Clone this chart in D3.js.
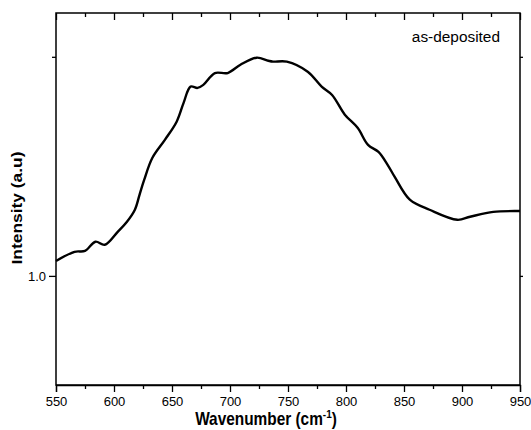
<!DOCTYPE html>
<html>
<head>
<meta charset="utf-8">
<script src="https://cdn.jsdelivr.net/npm/d3@7"></script>
<style>
  body { margin: 0; background: #fff; }
  text { font-family: "Liberation Sans", Arial, sans-serif; fill: #000; }
</style>
</head>
<body>
<div id="chart"></div>
<script>
// spectrum
var wavenumber = [550, 566, 575, 584, 592, 603, 611, 618, 622, 626, 633, 644, 654, 660, 666, 672, 677, 687, 698, 709, 723, 733, 737, 749, 767, 779, 788, 799, 810, 819, 828, 836, 842, 855, 872, 896, 907, 927, 948, 950];
var intensity = [1.034, 1.055, 1.057, 1.078, 1.071, 1.100, 1.123, 1.151, 1.185, 1.219, 1.269, 1.311, 1.352, 1.395, 1.432, 1.429, 1.436, 1.463, 1.463, 1.482, 1.498, 1.491, 1.489, 1.489, 1.466, 1.432, 1.413, 1.368, 1.338, 1.299, 1.283, 1.253, 1.226, 1.174, 1.151, 1.128, 1.135, 1.146, 1.148, 1.148];
var xTicks = [550, 600, 650, 700, 750, 800, 850, 900, 950];
var xMinor = [575, 625, 675, 725, 775, 825, 875, 925];
var yTicks = [1.0];
var yMinor = [1.5];

var width = 531,
  height = 430,
  margin = {top: 13, right: 11, bottom: 45, left: 56};

var svg = d3.select('#chart')
  .append('svg')
  .attr('width', width)
  .attr('height', height);

var x = d3.scaleLinear().domain([550, 950]).range([margin.left, width - margin.right]);
var y = d3.scaleLinear().domain([0.751, 1.6]).range([height - margin.bottom, margin.top]);

var x0 = x.range()[0], x1 = x.range()[1];
var y0 = y.range()[0], y1 = y.range()[1];

// bottom axis
svg.append('g')
  .attr('transform', 'translate(0,' + y0 + ')')
  .call(d3.axisBottom(x).tickValues(xTicks).tickSize(7).tickPadding(5).tickFormat(d3.format('d')))
  .call(function(g) {
    g.selectAll('text').attr('font-size', 13);
  });
svg.append('g')
  .attr('transform', 'translate(0,' + y0 + ')')
  .call(d3.axisBottom(x).tickValues(xMinor).tickSize(4).tickFormat(''))
  .call(function(g) { g.select('.domain').remove(); });

// top axis, ticks inward
svg.append('g')
  .attr('transform', 'translate(0,' + y1 + ')')
  .call(d3.axisBottom(x).tickValues(xTicks).tickSize(7).tickFormat(''))
  .call(function(g) { g.select('.domain').remove(); });
svg.append('g')
  .attr('transform', 'translate(0,' + y1 + ')')
  .call(d3.axisBottom(x).tickValues(xMinor).tickSize(4).tickFormat(''))
  .call(function(g) { g.select('.domain').remove(); });

// left axis
svg.append('g')
  .attr('transform', 'translate(' + x0 + ',0)')
  .call(d3.axisLeft(y).tickValues(yTicks).tickSize(7).tickPadding(3).tickFormat(d3.format('.1f')))
  .call(function(g) {
    g.select('.domain').remove();
    g.selectAll('text').attr('font-size', 13);
  });
svg.append('g')
  .attr('transform', 'translate(' + x0 + ',0)')
  .call(d3.axisLeft(y).tickValues(yMinor).tickSize(4).tickFormat(''))
  .call(function(g) { g.select('.domain').remove(); });

// right axis
svg.append('g')
  .attr('transform', 'translate(' + x1 + ',0)')
  .call(d3.axisRight(y).tickValues(yTicks.concat(yMinor)).tickSize(3).tickFormat(''))
  .call(function(g) { g.select('.domain').remove(); });

svg.selectAll('.tick line').attr('stroke-width', 1.3);
svg.selectAll('.domain').attr('stroke-width', 1.3);

// frame
svg.append('rect')
  .attr('x', x0)
  .attr('y', y1)
  .attr('width', x1 - x0)
  .attr('height', y0 - y1)
  .attr('fill', 'none')
  .attr('stroke', '#000')
  .attr('stroke-width', 1.5);

var line = d3.line()
  .x(function(d, i) { return x(wavenumber[i]); })
  .y(function(d) { return y(d); })
  .curve(d3.curveCatmullRom.alpha(0.5));

svg.append('path')
  .datum(intensity)
  .attr('d', line)
  .attr('fill', 'none')
  .attr('stroke', '#000')
  .attr('stroke-width', 2.4)
  .attr('stroke-linejoin', 'round');

// labels
svg.append('text')
  .attr('x', 500)
  .attr('y', 42)
  .attr('text-anchor', 'end')
  .attr('font-size', 15.4)
  .text('as-deposited');

var xt = svg.append('text')
  .attr('transform', 'translate(266,425) scale(1,1.17)')
  .attr('text-anchor', 'middle')
  .attr('font-size', 15.4)
  .attr('font-weight', 'bold');
xt.append('tspan').text('Wavenumber (cm');
xt.append('tspan').attr('font-size', 10).attr('dy', -6).text('-1');
xt.append('tspan').attr('dy', 6).text(')');

svg.append('text')
  .attr('transform', 'translate(22,208) rotate(-90)')
  .attr('text-anchor', 'middle')
  .attr('font-size', 14)
  .attr('font-weight', 'bold')
  .attr('textLength', 113)
  .attr('lengthAdjust', 'spacingAndGlyphs')
  .text('Intensity (a.u)');
</script>
</body>
</html>
